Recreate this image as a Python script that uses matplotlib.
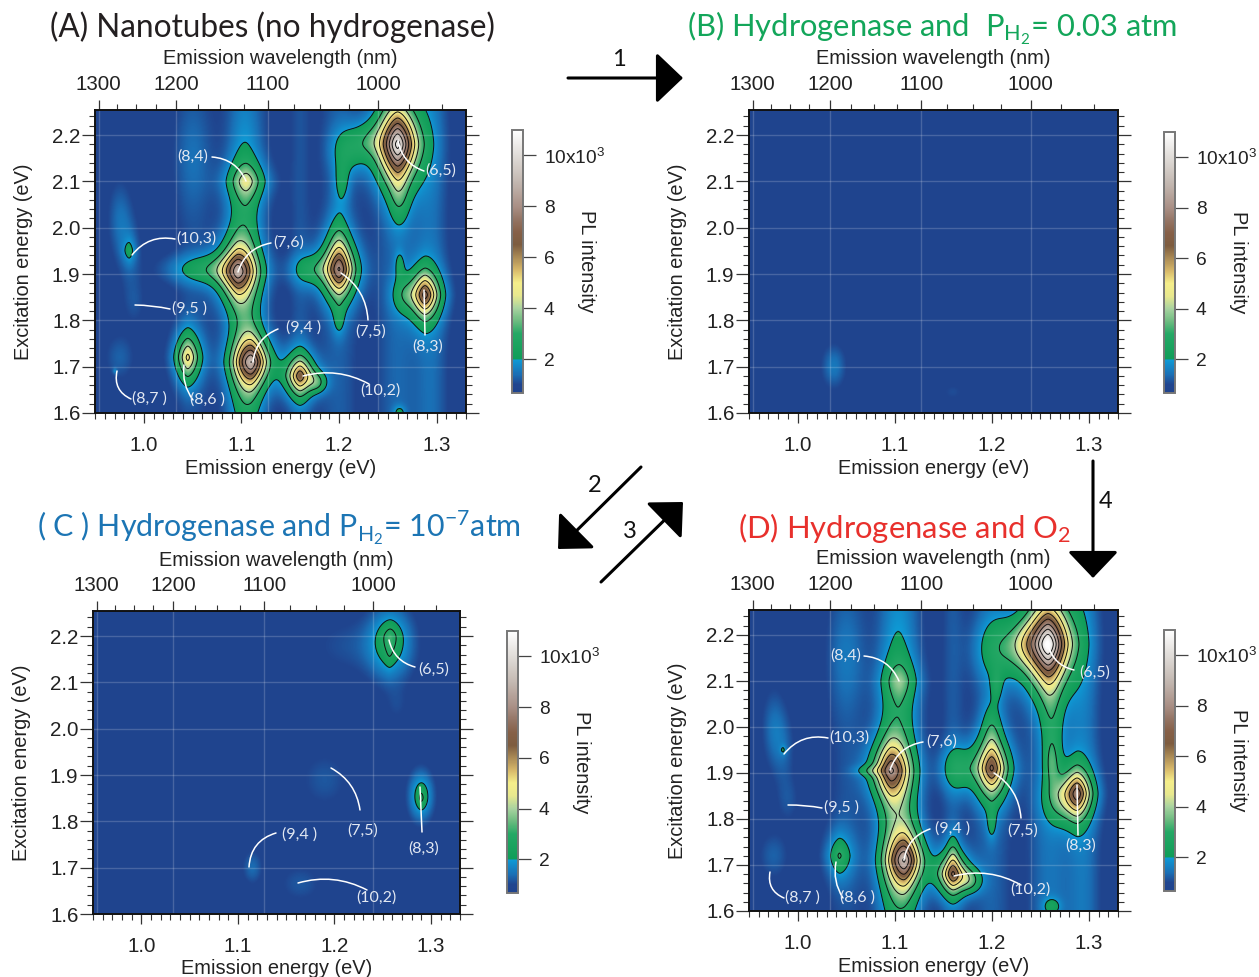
import numpy as np
import matplotlib
matplotlib.use("Agg")
import matplotlib.pyplot as plt
from matplotlib.colors import LinearSegmentedColormap

plt.rcParams['font.family'] = ['Liberation Sans', 'DejaVu Sans']
plt.rcParams['mathtext.default'] = 'regular'

W, H = 1259, 977

# colour scale
cb_vals = [0.67, 1.0, 1.4, 1.97, 2.0, 3.0, 3.5, 4.0, 4.5, 5.0, 5.5, 6.0, 6.5, 7.0, 7.5, 8.0, 9.0, 10.0, 11.0]
cb_cols = ['#1f448e', '#20458f', '#1a6fb5', '#0e9ad5', '#0f9d58', '#25a865', '#6dbb80', '#a9d3a0', '#e8e88e',
           '#f5ee8a', '#d8b96a', '#aa8a55', '#7d5c3f', '#866048', '#947565', '#a98f85', '#c4b9b2', '#e0dcd8', '#ffffff']

# peaks: emission eV, excitation eV, height (10^3), half widths
peaks_A = [(1.26, 2.18, 9.0, .019, .075), (1.096, 1.905, 5.8, .018, .058), (1.105, 2.10, 2.5, .018, .040),
           (1.11, 1.71, 6.5, .017, .050), (1.20, 1.91, 6.0, .016, .058), (1.288, 1.855, 6.0, .014, .048),
           (1.16, 1.68, 5.5, .014, .042), (1.045, 1.72, 4.2, .012, .050), (.985, 1.95, 1.1, .006, .025),
           (.97, 1.69, .75, .002, .006)]
peaks_B = [(1.11, 1.68, .15, .005, .012), (1.19, 1.905, .1, .005, .012)]
peaks_C = [(1.29, 1.85, .5, .004, .020), (1.258, 2.20, .7, .009, .028), (1.257, 2.16, .4, .005, .035)]
peaks_D = [(1.258, 2.18, 9.5, .021, .080), (1.096, 1.905, 5.6, .018, .060), (1.105, 2.10, 1.6, .017, .045),
           (1.11, 1.71, 6.2, .017, .055), (1.20, 1.91, 5.8, .016, .060), (1.288, 1.855, 5.8, .014, .050),
           (1.16, 1.68, 5.4, .015, .042), (1.043, 1.72, 1.7, .011, .040), (.985, 1.95, .8, .003, .010)]

# broad features and faint patches: emission eV, excitation eV, height, widths
ridges_A = [(1.103, 1.95, 1.3, .016, .30), (1.105, 1.65, 1.0, .016, .15), (1.065, 1.91, 1.5, .040, .033),
            (1.17, 1.91, 1.3, .020, .035), (1.20, 1.95, .9, .010, .09), (1.20, 1.80, .8, .006, .035),
            (1.265, 1.855, 1.0, .012, .040), (1.21, 2.17, 1.3, .018, .050), (1.203, 2.10, 1.0, .008, .045),
            (1.23, 2.19, .9, .015, .040), (1.262, 2.06, .9, .010, .060), (1.262, 1.92, .9, .005, .030),
            (1.262, 1.60, 1.0, .006, .015), (1.178, 1.665, 1.5, .010, .022),
            (.975, 2.02, .6, .012, .08), (.99, 1.84, .35, .012, .05), (.975, 1.72, .5, .015, .05),
            (.985, 1.95, .45, .012, .08), (1.05, 2.15, .4, .020, .12)]
ridges_B = [(1.037, 1.70, .75, .012, .045), (1.16, 1.645, .3, .012, .020), (1.147, 1.62, .15, .006, .015)]
ridges_C = [(1.22, 2.18, .35, .045, .06), (1.258, 2.185, 1.5, .022, .075), (1.265, 2.05, .25, .012, .04),
            (1.29, 2.05, .2, .010, .04), (1.19, 1.89, .4, .025, .06), (1.115, 1.70, .6, .010, .035),
            (1.165, 1.665, .4, .022, .04), (1.29, 1.855, 1.6, .012, .050), (1.04, 1.69, .1, .005, .01)]
ridges_D = [(1.103, 1.95, 1.3, .018, .32), (1.105, 1.68, 1.1, .020, .17), (1.075, 1.905, .9, .016, .012),
            (1.165, 1.91, 1.5, .018, .050), (1.20, 2.00, .9, .010, .060), (1.20, 1.79, .9, .005, .035),
            (1.27, 1.84, 1.3, .018, .050), (1.21, 2.17, 1.5, .026, .070), (1.205, 2.09, .9, .006, .035),
            (1.235, 2.18, 1.2, .016, .050), (1.262, 2.00, 1.0, .011, .120), (1.262, 1.92, 1.0, .008, .050),
            (1.262, 1.61, 1.0, .009, .018), (1.178, 1.665, 1.6, .012, .026), (1.16, 1.72, .9, .006, .050),
            (.975, 2.0, .6, .012, .08), (.99, 1.84, .35, .012, .05), (.975, 1.72, .5, .015, .05),
            (.985, 1.95, .45, .012, .08), (1.05, 2.15, .45, .020, .12), (1.045, 1.72, .35, .02, .08)]

# faint vertical bands seen across the full height: emission eV, height, width
bands_A = [(1.05, .25, .02), (1.105, .4, .025), (1.16, .35, .012), (1.20, .45, .020), (1.26, .55, .022), (1.295, .6, .017)]
bands_D = [(1.05, .3, .02), (1.105, .5, .025), (1.16, .4, .012), (1.20, .5, .020), (1.26, .7, .022), (1.295, .7, .017)]

wave_major = [1300, 1200, 1100, 1000]
wave_minor = [1275, 1250, 1225, 1175, 1150, 1125, 1075, 1050, 1025, 975, 950]
energy_ticks = [1.0, 1.1, 1.2, 1.3]
excite_ticks = [1.6, 1.7, 1.8, 1.9, 2.0, 2.1, 2.2]
levels_full = [2, 3, 4, 5, 6, 7, 8, 9, 10]
levels_low = [2, 2.7]

# nanotube labels: text, label centre px, leader start px, leader tip px, curvature
labels_A = [('(8,4)', (193, 157), (212, 157), (246, 181), -.3), ('(6,5)', (441, 171), (424, 171), (398, 140), -.3),
            ('(10,3)', (196, 239), (175, 239), (132, 255), .3), ('(7,6)', (289, 243), (271, 243), (238, 272), .3),
            ('(9,5 )', (190, 309), (170, 309), (135, 305), .05), ('(7,5)', (371, 332), (368, 320), (341, 273), .25),
            ('(9,4 )', (304, 328), (278, 329), (253, 362), .3), ('(8,3)', (428, 347), (425, 335), (424, 290), 0),
            ('(8,7 )', (149, 399), (131, 399), (117, 371), -.4), ('(8,6 )', (208, 400), (193, 400), (184, 365), -.2),
            ('(10,2)', (380, 391), (369, 384), (303, 376), .2)]
labels_C = [('(6,5)', (434, 670), (415, 667), (389, 640), -.3), ('(7,5)', (363, 831), (360, 810), (331, 768), .25),
            ('(8,3)', (424, 849), (422, 832), (420, 787), 0), ('(9,4 )', (300, 835), (276, 833), (249, 867), .35),
            ('(10,2)', (376, 898), (367, 890), (298, 883), .2)]
labels_D = [('(8,4)', (846, 656), (864, 656), (899, 681), -.3), ('(6,5)', (1095, 673), (1074, 670), (1048, 645), -.3),
            ('(10,3)', (849, 738), (828, 738), (784, 754), .3), ('(7,6)', (942, 742), (923, 742), (890, 770), .3),
            ('(9,5 )', (842, 808), (822, 808), (788, 805), .05), ('(7,5)', (1023, 831), (1021, 818), (994, 773), .25),
            ('(9,4 )', (953, 829), (930, 829), (904, 860), .3), ('(8,3)', (1081, 846), (1078, 835), (1077, 785), 0),
            ('(8,7 )', (802, 898), (784, 898), (770, 872), -.4), ('(8,6 )', (858, 898), (843, 898), (836, 862), -.2),
            ('(10,2)', (1030, 890), (1021, 885), (954, 876), .2)]

titles = [('(A) Nanotubes (no hydrogenase)', 50, 37, '#231f20', 22.7),
          ('(B) Hydrogenase and  P$_{H_2}$= 0.03 atm', 687, 37, '#13a65a', 22.2),
          ('( C ) Hydrogenase and P$_{H_2}$= 10$^{-7}$atm', 37, 537, '#1c75b4', 21.9),
          ('(D) Hydrogenase and O$_2$', 738, 538, '#e8302c', 22.3)]


def px_axes(left, top, right, bottom):
    return fig.add_axes([left / W, 1 - bottom / H, (right - left) / W, (bottom - top) / H])


def build_field(peaks, ridges, bands):
    em = np.linspace(0.95, 1.33, 381)
    ex = np.linspace(1.6, 2.254, 328)
    X, Y = np.meshgrid(em, ex)
    Z = np.full(X.shape, 0.78)
    for c, a, w in bands:
        Z += a * np.exp(-((X - c) / w) ** 2)
    for x0, y0, a, wx, wy in ridges:
        Z += a * np.exp(-((X - x0) / wx) ** 2 - ((Y - y0) / wy) ** 2)
    for x0, y0, a, wx, wy in peaks:
        r = (np.abs((X - x0) / wx) ** 1.6 + np.abs((Y - y0) / wy) ** 1.6) ** (1 / 1.6)
        Z += a * np.exp(-r ** 1.5)
    return em, ex, Z


def draw_panel(box, cbox, peaks, ridges, bands, levels):
    em, ex, Z = build_field(peaks, ridges, bands)
    ax = px_axes(*box)
    im = ax.imshow(Z, extent=[em[0], em[-1], ex[0], ex[-1]], origin='lower', aspect='auto',
                   cmap=cmap, vmin=0.67, vmax=11, interpolation='bilinear')
    ax.contour(em, ex, Z, levels=levels, colors='#101010', linewidths=0.7)
    ax.set_xlim(0.95, 1.33)
    ax.set_ylim(1.6, 2.254)

    for y in excite_ticks:
        ax.axhline(y, color='white', alpha=.18, lw=1)
    for w in wave_major:
        ax.axvline(1240 / w, color='white', alpha=.18, lw=1)

    ax.set_xticks(energy_ticks)
    ax.set_xticks(np.arange(0.95, 1.331, 0.01), minor=True)
    ax.set_yticks(excite_ticks)
    ax.set_yticks(np.arange(1.6, 2.25, 0.02), minor=True)
    ax.tick_params(axis='x', which='major', direction='out', length=7.5, width=.9, labelsize=14.8, color='#333333',
                   labelcolor='#222222', pad=9)
    ax.tick_params(axis='y', which='major', direction='out', length=9.5, width=.9, labelsize=14.8, right=True,
                   color='#333333', labelcolor='#222222', pad=1)
    ax.tick_params(which='minor', direction='out', length=4.2, width=.8, right=True, color='#333333')
    for s in ax.spines.values():
        s.set_linewidth(1.4)
        s.set_color('#111111')

    top = ax.secondary_xaxis('top')
    top.set_xticks([1240 / w for w in wave_major], [str(w) for w in wave_major])
    top.set_xticks([1240 / w for w in wave_minor], minor=True)
    top.tick_params(which='major', direction='out', length=7.5, width=.9, labelsize=14.8, color='#333333',
                    labelcolor='#222222', pad=4)
    top.tick_params(which='minor', direction='out', length=4.2, width=.8, color='#333333')
    top.spines['top'].set_visible(False)

    left, ytop, right, bottom = box
    cx, cy = (left + right) / 2, (ytop + bottom) / 2
    over.text(cx, bottom + 55, 'Emission energy (eV)', ha='center', va='center', fontsize=14.4, color='#222222')
    over.text(cx, ytop - 51, 'Emission wavelength (nm)', ha='center', va='center', fontsize=14.4, color='#222222')
    over.text(left - 71, cy, 'Excitation energy (eV)', ha='center', va='center', rotation=90, fontsize=14.4,
              color='#222222')

    cax = px_axes(*cbox)
    cb = fig.colorbar(im, cax=cax)
    cb.set_ticks([2, 4, 6, 8, 10], labels=['2', '4', '6', '8', '10x10$^3$'])
    cb.ax.minorticks_off()
    cb.ax.tick_params(length=9, width=.9, color='#444444', labelsize=13.8, labelcolor='#222222', pad=6)
    cb.outline.set_edgecolor('#777777')
    cb.outline.set_linewidth(1.4)
    over.text(cbox[2] + 64, (cbox[1] + cbox[3]) / 2, 'PL intensity', ha='center', va='center', rotation=270,
              fontsize=14.4, color='#222222')
    return ax


def arrow(start, tip):
    over.annotate('', xy=tip, xytext=start,
                  arrowprops=dict(arrowstyle='-|>,head_length=1.05,head_width=1.0', mutation_scale=16, color='black',
                                  lw=2.2, shrinkA=0, shrinkB=0))


def add_labels(rows):
    for txt, lab, a, b, rad in rows:
        over.annotate('', xy=b, xytext=a,
                      arrowprops=dict(arrowstyle='-', color='white', lw=1.1, shrinkA=0, shrinkB=0,
                                      connectionstyle='arc3,rad=%s' % rad))
        over.text(lab[0], lab[1], txt, ha='center', va='center', fontsize=11.5, color='#e2e8f2', family='Lato')


fig = plt.figure(figsize=(W / 100, H / 100), dpi=100)
cmap = LinearSegmentedColormap.from_list(
    'pl', [((v - cb_vals[0]) / (cb_vals[-1] - cb_vals[0]), c) for v, c in zip(cb_vals, cb_cols)], N=512)

over = fig.add_axes([0, 0, 1, 1], zorder=10)
over.set_xlim(0, W)
over.set_ylim(H, 0)
over.axis('off')

draw_panel((95, 110, 466, 413), (512, 130, 523, 393), peaks_A, ridges_A, bands_A, levels_full)
draw_panel((749, 110, 1118, 413), (1164, 132, 1175, 393), peaks_B, ridges_B, [], levels_full)
draw_panel((93, 611, 460, 914), (507, 631, 518, 893), peaks_C, ridges_C, [], levels_low)
draw_panel((749, 610, 1118, 911), (1164, 630, 1175, 891), peaks_D, ridges_D, bands_D, levels_full)

for txt, x, y, col, size in titles:
    over.text(x, y, txt, fontsize=size, color=col, family='Lato', ha='left', va='baseline')

add_labels(labels_A)
add_labels(labels_C)
add_labels(labels_D)

arrow((568, 78), (683, 78))
arrow((641, 467), (558, 549))
arrow((601, 582), (683, 502))
arrow((1093, 461), (1093, 578))
for txt, x, y in [('1', 619, 60), ('2', 595, 485), ('3', 630, 532), ('4', 1106, 501)]:
    over.text(x, y, txt, fontsize=17, color='#111111', family='Lato', ha='center', va='center')

fig.savefig('out.png', dpi=100)
